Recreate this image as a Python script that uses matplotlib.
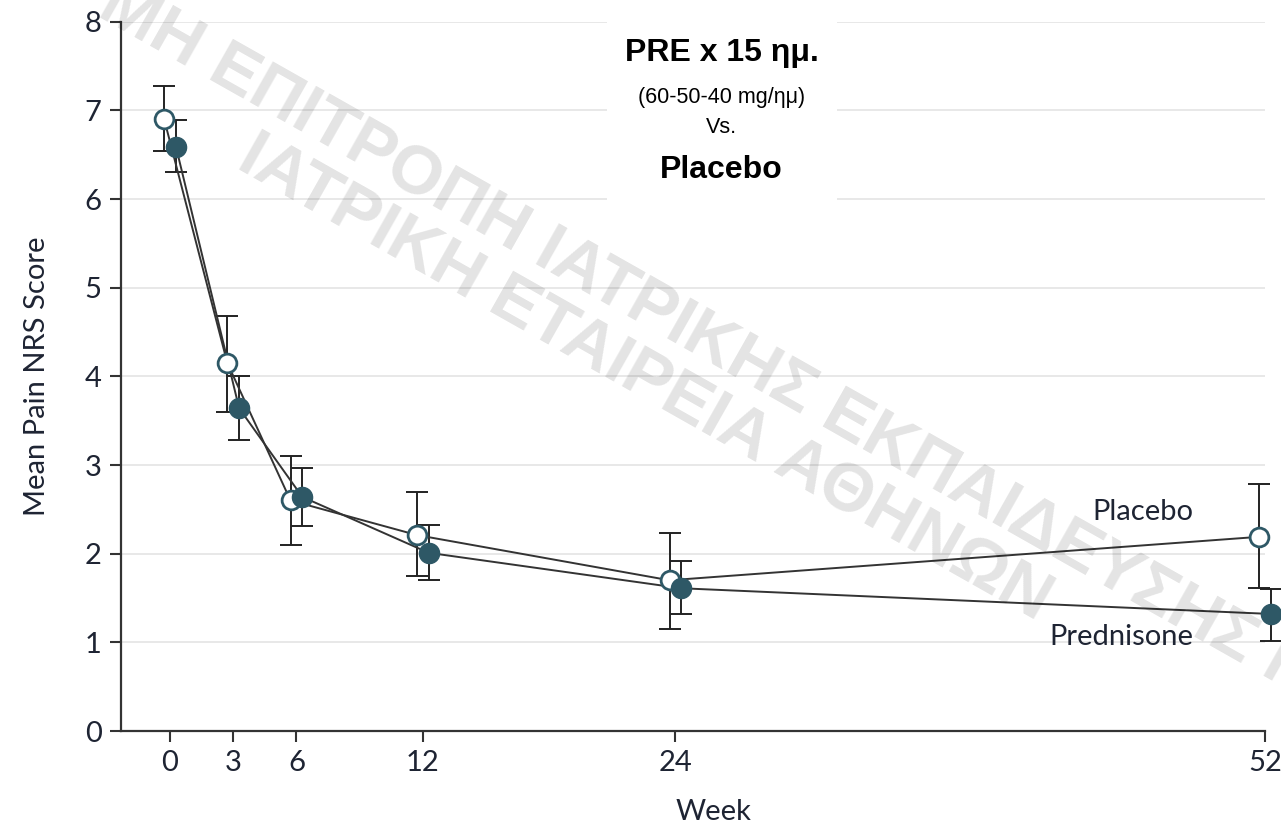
import matplotlib
matplotlib.use("Agg")
import matplotlib.pyplot as plt
from matplotlib.patches import Rectangle

# weeks of follow-up
weeks = [0, 3, 6, 12, 24, 52]
week_labels = ["0", "3", "6", "12", "24", "52"]

# placebo group (open circles): mean and error bar ends
placebo_mean = [6.90, 4.15, 2.60, 2.21, 1.70, 2.19]
placebo_hi = [7.28, 4.68, 3.10, 2.69, 2.23, 2.79]
placebo_lo = [6.54, 3.60, 2.10, 1.75, 1.15, 1.61]

# prednisone group (filled circles)
pred_mean = [6.59, 3.64, 2.64, 2.01, 1.61, 1.32]
pred_hi = [6.89, 4.00, 2.97, 2.32, 1.92, 1.60]
pred_lo = [6.30, 3.28, 2.31, 1.70, 1.32, 1.02]

teal = "#2e5866"
txtc = "#1e2433"
shift = 0.28

W, H = 1281, 831
fig = plt.figure(figsize=(W / 100, H / 100), dpi=100)
ax = fig.add_axes([121 / W, 1 - 731 / H, (1265 - 121) / W, (731 - 21.7) / H])

ax.set_xlim(-2.33, 52)
ax.set_ylim(0, 8)

# horizontal grid
ax.set_yticks(range(0, 9))
ax.grid(axis="y", color="#e6e6e6", lw=1.3, zorder=0)
ax.set_axisbelow(True)

# white box behind the title text (hides grid there)
ax.add_patch(Rectangle((20.75, 5.75), 10.9, 2.6, facecolor="white", edgecolor="none",
                       zorder=1, clip_on=False))

xp = [w - shift for w in weeks]
xd = [w + shift for w in weeks]

def yerr(m, lo, hi):
    return [[a - b for a, b in zip(m, lo)], [c - a for a, c in zip(m, hi)]]

ax.errorbar(xp, placebo_mean, yerr=yerr(placebo_mean, placebo_lo, placebo_hi), fmt="none",
            ecolor="#222222", elinewidth=1.4, capsize=8, capthick=1.4, zorder=3, clip_on=False)
ax.errorbar(xd, pred_mean, yerr=yerr(pred_mean, pred_lo, pred_hi), fmt="none",
            ecolor="#222222", elinewidth=1.4, capsize=8, capthick=1.4, zorder=3, clip_on=False)

ax.plot(xp, placebo_mean, color="#333333", lw=1.4, zorder=4, clip_on=False)
ax.plot(xd, pred_mean, color="#333333", lw=1.4, zorder=4, clip_on=False)

ax.plot(xp, placebo_mean, "o", ms=13.5, mfc="white", mec=teal, mew=2.0, zorder=5, clip_on=False)
ax.plot(xd, pred_mean, "o", ms=14.5, mfc=teal, mec=teal, mew=1.0, zorder=6, clip_on=False)

ax.text(48.6, 2.47, "Placebo", ha="right", va="center", fontsize=21, color=txtc,
        family="Lato", zorder=7)
ax.text(48.6, 1.06, "Prednisone", ha="right", va="center", fontsize=21, color=txtc,
        family="Lato", zorder=7)

# title block
ax.text(26.2, 7.65, "PRE x 15 ημ.", ha="center", va="center", fontsize=23, fontweight="bold",
        family="Liberation Sans", color="black", zorder=7)
ax.text(26.2, 7.15, "(60-50-40 mg/ημ)", ha="center", va="center", fontsize=15.5,
        family="Liberation Sans", color="black", zorder=7)
ax.text(26.2, 6.81, "Vs.", ha="center", va="center", fontsize=15.5,
        family="Liberation Sans", color="black", zorder=7)
ax.text(26.2, 6.33, "Placebo", ha="center", va="center", fontsize=23, fontweight="bold",
        family="Liberation Sans", color="black", zorder=7)

ax.set_xticks(weeks)
ax.set_xticklabels(week_labels)
for s in ["top", "right"]:
    ax.spines[s].set_visible(False)
for s in ["left", "bottom"]:
    ax.spines[s].set_color("#333333")
    ax.spines[s].set_linewidth(1.6)
ax.tick_params(axis="both", length=8, width=1.5, color="#333333", labelsize=21,
               labelcolor=txtc, pad=6)
for lab in ax.get_xticklabels() + ax.get_yticklabels():
    lab.set_family("Lato")

ax.set_xlabel("Week", fontsize=21, family="Lato", color=txtc)
ax.xaxis.set_label_coords((713 - 121) / (1265 - 121), (731 - 799) / (731 - 21.7))
ax.set_ylabel("Mean Pain NRS Score", fontsize=21, family="Lato", color=txtc)
ax.yaxis.set_label_coords((50 - 121) / (1265 - 121), 0.5)

# watermark
wm = dict(rotation=-29.5, rotation_mode="anchor", ha="left", va="center", fontsize=49.5,
          fontweight="bold", family="Liberation Sans", color="black", alpha=0.11, zorder=10)
fig.text(104 / W, 1 - 0 / H, "ΜΗ ΕΠΙΤΡΟΠΗ ΙΑΤΡΙΚΗΣ ΕΚΠΑΙΔΕΥΣΗΣ Ι", **wm)
fig.text(243 / W, 1 - 152 / H, "ΙΑΤΡΙΚΗ ΕΤΑΙΡΕΙΑ ΑΘΗΝΩΝ", **wm)

fig.savefig("out.png", dpi=100)
